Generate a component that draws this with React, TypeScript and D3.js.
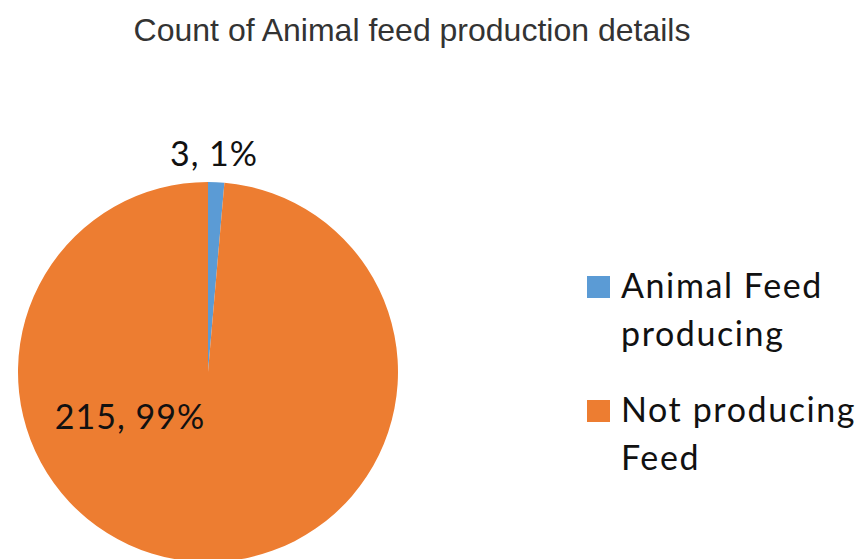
import React from "react";
import * as d3 from "d3";

const categories = ["Animal Feed producing", "Not producing Feed"];
const counts = [3, 215];
const percentLabels = ["1%", "99%"];
const legendLines = [["Animal Feed", "producing"], ["Not producing", "Feed"]];
const colors = ["#5B9BD5", "#ED7D31"];
const title = "Count of Animal feed production details";

export default function App() {
  const W = 864, H = 559;
  const cx = 208, cy = 372, r = 190;
  const pie = d3.pie<number>().sort(null).value((d) => d);
  const arcs = pie(counts);
  const arcGen = d3.arc<d3.PieArcDatum<number>>().innerRadius(0).outerRadius(r);
  const labelFont = "Lato, 'Open Sans', sans-serif";
  return (
    <svg width={W} height={H} style={{ position: "absolute", left: 0, top: 0, background: "#fff" }}>
      <text x={412} y={41} textAnchor="middle" fontFamily="'Liberation Sans', Arial, sans-serif" fontSize={32} fill="#333">{title}</text>
      <g transform={`translate(${cx},${cy})`}>
        {arcs.map((a, i) => (
          <path key={categories[i]} d={arcGen(a) || ""} fill={colors[i]} />
        ))}
      </g>
      <text x={214} y={166} textAnchor="middle" fontFamily={labelFont} fontSize={34} letterSpacing={1} fill="#111">{`${counts[0]}, ${percentLabels[0]}`}</text>
      <text x={130} y={429} textAnchor="middle" fontFamily={labelFont} fontSize={34} letterSpacing={1} fill="#111">{`${counts[1]}, ${percentLabels[1]}`}</text>
      {legendLines.map((lines, i) => (
        <g key={i}>
          <rect x={587} y={276 + i * 124} width={23} height={22} fill={colors[i]} />
          {lines.map((ln, j) => (
            <text key={j} x={621} y={298 + i * 124 + j * 48} fontFamily={labelFont} fontSize={34} letterSpacing={1.6} fill="#111">{ln}</text>
          ))}
        </g>
      ))}
    </svg>
  );
}
